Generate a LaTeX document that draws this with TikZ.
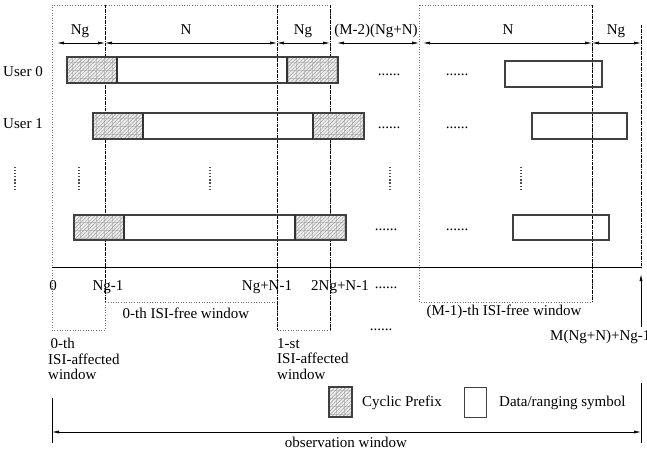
\documentclass[tikz,border=0pt]{standalone}
\usepackage{fontspec}
\setmainfont{Liberation Serif}
\usetikzlibrary{patterns.meta,arrows.meta}
\begin{document}
\begin{tikzpicture}[x=1pt,y=-1pt,
  font=\fontsize{15}{15.5}\selectfont,
  lbl/.style={inner sep=0pt,anchor=base},
  cpbox/.style={draw=black!75,line width=1.1pt,preaction={fill=gray!15},
    preaction={pattern={Lines[angle=0,distance=8pt,line width=0.3pt]},pattern color=gray!45},
    preaction={pattern={Lines[angle=90,distance=8pt,line width=0.3pt]},pattern color=gray!45},
    pattern={Lines[angle=45,distance=2.6pt,line width=0.45pt]},pattern color=gray!80},
  databox/.style={draw=black!75,line width=1.1pt},
  sep/.style={draw=black!80,line width=2pt},
  winline/.style={draw=black!55,dotted,line width=0.6pt},
  bound/.style={draw=black,densely dashdotted,line width=0.6pt},
  dim/.style={line width=0.6pt,{Latex[length=7pt,width=3pt]}-{Latex[length=7pt,width=3pt]}},
  vdots/.style={line width=1.3pt,dash pattern=on 1.2pt off 1.9pt,black!70},
]
\useasboundingbox (0,0) rectangle (647,454);

% ---- windows (dotted) ----
\draw[winline] (105,302) -- (105,330) -- (52,330) -- (52,5) -- (330,5) -- (330,330) -- (277,330) -- (277,302) -- cycle;
\draw[winline] (419,5) rectangle (592,302);

% ---- boundaries (dash-dot) ----
\draw[bound] (105,5) -- (105,302);
\draw[bound] (277,5) -- (277,330);
\draw[bound] (330,5) -- (330,330);
\draw[bound] (592,5) -- (592,302);
\draw[bound] (641,25) -- (641,268);

% ---- top dimensions ----
\coordinate (d0) at (57,43);  \coordinate (d1) at (105,43);
\coordinate (d2) at (277,43); \coordinate (d3) at (330,43);
\coordinate (d3b) at (337,43); \coordinate (d4) at (419,43);
\coordinate (d4b) at (423,43); \coordinate (d5) at (592,43);
\coordinate (d6) at (641,43);
\draw[dim] (d0) -- (d1);
\draw[dim] (d1) -- (d2);
\draw[dim] (d2) -- (d3);
\draw[dim] (d3b) -- (d4);
\draw[dim] (d4b) -- (d5);
\draw[dim] (d5) -- (d6);
\node[lbl] (tNg1) at (80,35) {Ng};
\node[lbl] (tN1) at (186,35) {N};
\node[lbl] (tNg2) at (303,35) {Ng};
\node[lbl] (tM2) at (376,35) {(M-2)(Ng+N)};
\node[lbl] (tN2) at (508,35) {N};
\node[lbl] (tNg3) at (616,35) {Ng};

% ---- user labels ----
\node[lbl,anchor=base west] (u0) at (3,77) {User 0};
\node[lbl,anchor=base west] (u1) at (3,129) {User 1};

% ---- row 0 ----
\draw[cpbox] (67,57) rectangle (117,83);
\draw[databox] (117,57) rectangle (287,83);
\draw[cpbox] (287,57) rectangle (338,83);
\draw[sep] (117,57) -- (117,83);
\draw[sep] (287,57) -- (287,83);
\draw[databox] (505,61) rectangle (602,87);
\node[lbl] (e01) at (389,76) {......};
\node[lbl] (e02) at (457,76) {......};

% ---- row 1 ----
\draw[cpbox] (93,113) rectangle (143,139);
\draw[databox] (143,113) rectangle (313,139);
\draw[cpbox] (313,113) rectangle (364,139);
\draw[sep] (143,113) -- (143,139);
\draw[sep] (313,113) -- (313,139);
\draw[databox] (532,113) rectangle (627,139);
\node[lbl] (e11) at (389,129) {......};
\node[lbl] (e12) at (457,129) {......};

% ---- vertical dots ----
\foreach \x in {15,79,210,390,521}
  \draw[vdots] (\x,167) -- (\x,191);

% ---- last row ----
\draw[cpbox] (74,215) rectangle (124,240);
\draw[databox] (124,215) rectangle (295,240);
\draw[cpbox] (295,215) rectangle (346,240);
\draw[sep] (124,215) -- (124,240);
\draw[sep] (295,215) -- (295,240);
\draw[databox] (513,215) rectangle (609,240);
\node[lbl] (e21) at (386,230) {......};
\node[lbl] (e22) at (457,230) {......};

% ---- axis ----
\coordinate (a0) at (52,267);
\coordinate (a1) at (641,267);
\draw[line width=0.7pt] (a0) -- (a1);
\node[lbl] (x0) at (53,290) {0};
\node[lbl] (x1) at (108,290) {Ng-1};
\node[lbl] (x2) at (267,290) {Ng+N-1};
\node[lbl] (x3) at (340,290) {2Ng+N-1};
\node[lbl] (x4) at (386,288) {......};
\coordinate (mA) at (641,327);
\coordinate (mB) at (641,274);
\draw[line width=0.7pt,-{Latex[length=7pt,width=3pt]}] (mA) -- (mB);
\node[lbl,anchor=base west] (xm) at (550,340) {M(Ng+N)+Ng-1};

% ---- window labels ----
\node[lbl] (w0) at (186,318) {0-th ISI-free window};
\node[lbl] (wm) at (504,315) {(M-1)-th ISI-free window};
\node[lbl] (wd) at (381,330) {......};
\node[anchor=north west,inner sep=0pt,align=left] (a0l) at (48,338) {\,0-th\\ISI-affected\\window};
\node[anchor=north west,inner sep=0pt,align=left] (a1l) at (277,338) {1-st\\ISI-affected\\window};

% ---- legend ----
\draw[cpbox] (329,387) rectangle (352,417);
\node[lbl,anchor=base west] (lcp) at (362,406) {Cyclic Prefix};
\draw[databox,line width=0.7pt] (464,387) rectangle (486,417);
\node[lbl,anchor=base west] (ld) at (499,406) {Data/ranging symbol};

% ---- observation window ----
\coordinate (o0) at (52,432);
\coordinate (o1) at (641,432);
\draw[line width=0.7pt] (52,398) -- (52,443);
\draw[line width=0.7pt] (641,383) -- (641,443);
\draw[dim] (o0) -- (o1);
\node[lbl] (ow) at (346,447) {observation window};
\end{tikzpicture}
\end{document}
